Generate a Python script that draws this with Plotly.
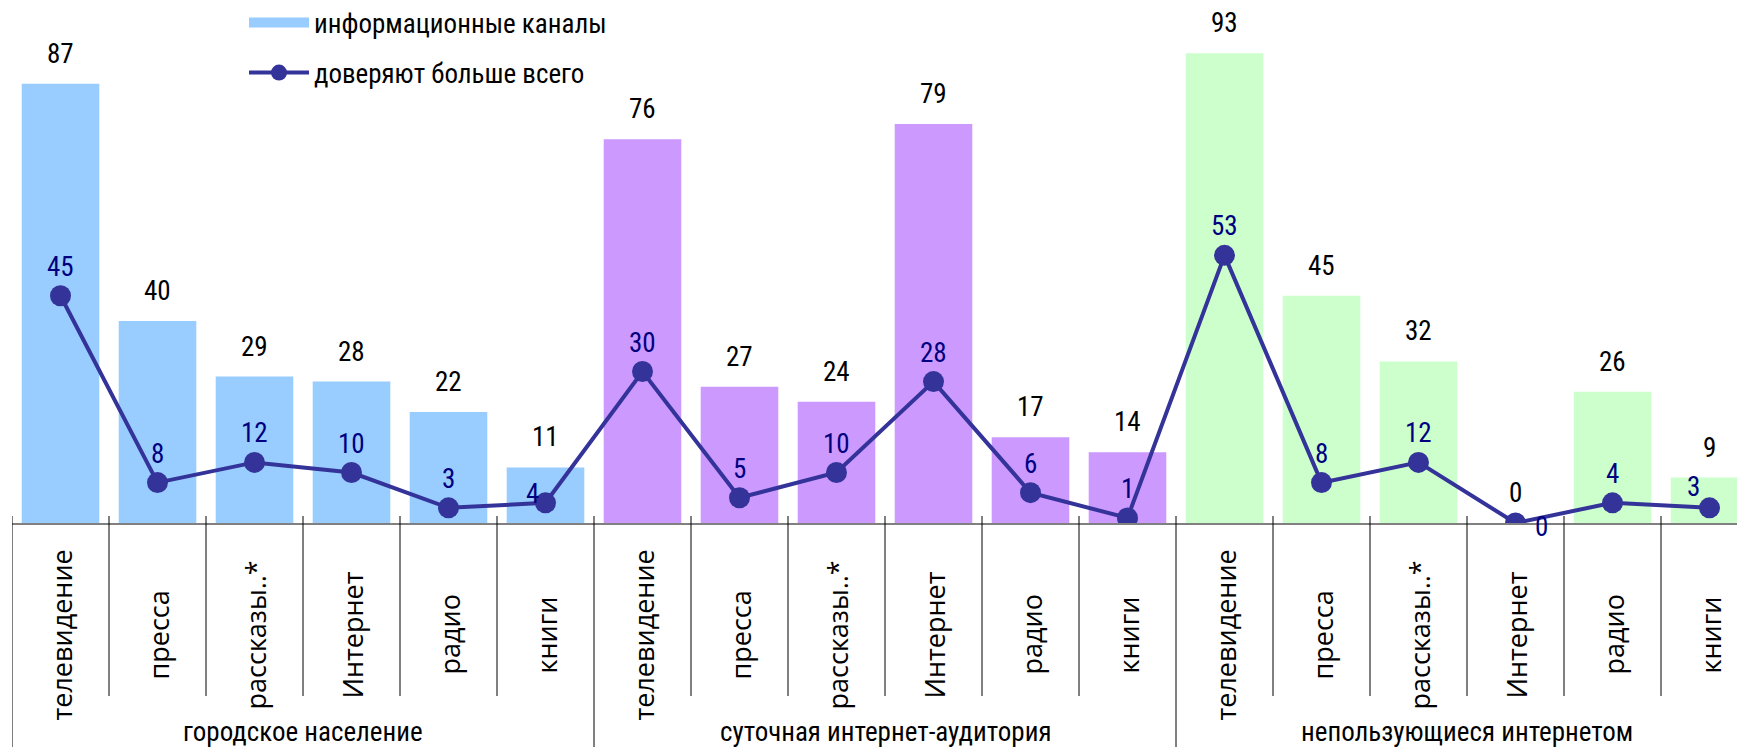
import plotly.graph_objects as go

# ---------------- data ----------------
groups = ["городское население", "суточная интернет-аудитория", "непользующиеся интернетом"]
channels = ["телевидение", "пресса", "рассказы..*", "Интернет", "радио", "книги"]
info_channels = [87, 40, 29, 28, 22, 11,
                 76, 27, 24, 79, 17, 14,
                 93, 45, 32, 0, 26, 9]
trust_most = [45, 8, 12, 10, 3, 4,
              30, 5, 10, 28, 6, 1,
              53, 8, 12, 0, 4, 3]
series_names = ["информационные каналы", "доверяют больше всего"]

# ---------------- styles ----------------
group_colors = ["#99CCFF", "#CC99FF", "#CCFFCC"]
LINE = "#333399"
LABEL_BLUE = "#000080"
NUM_FONT = "Roboto Condensed, Roboto, sans-serif"
TICK_FONT = "Open Sans, sans-serif"
NUM_SIZE = 27

W, H = 1745, 747
ML, MB = 4, 232
PLOT_W = W - ML
PLOT_H = H - MB
PX_PER_UNIT = 5.05
CAT_W = 97

n_ch = len(channels)
n = len(info_channels)
x_outer = [g for g in groups for _ in channels]
x_inner = channels * len(groups)
bar_colors = [group_colors[i // n_ch] for i in range(n)]

# label offsets (pixels) for special line labels
line_label_shift = {5: (-13, -9), 15: (26, 4), 17: (-16, -21)}

fig = go.Figure()
fig.add_bar(x=[x_outer, x_inner], y=info_channels, marker_color=bar_colors,
            marker_line_width=0, showlegend=False, hoverinfo="skip")
fig.add_scatter(x=[x_outer, x_inner], y=trust_most, mode="lines+markers",
                line=dict(color=LINE, width=4), marker=dict(size=21, color=LINE),
                name=series_names[1], legend="legend2", showlegend=True)
# legend proxy for bars
fig.add_scatter(x=[None], y=[None], mode="lines", line=dict(color=group_colors[0], width=12),
                name=series_names[0], legend="legend", showlegend=True)

ann = []
for i, v in enumerate(info_channels):
    ann.append(dict(x=i, y=v, xref="x", yref="y", text=str(v), showarrow=False,
                    yanchor="middle", yshift=30, font=dict(family=NUM_FONT, size=NUM_SIZE, color="black")))
for i, v in enumerate(trust_most):
    dx, dy = line_label_shift.get(i, (0, -29))
    ann.append(dict(x=i, y=v, xref="x", yref="y", text=str(v), showarrow=False,
                    yanchor="middle", xshift=dx, yshift=-dy,
                    font=dict(family=NUM_FONT, size=NUM_SIZE, color=LABEL_BLUE)))
for i, c in enumerate(x_inner):
    ann.append(dict(x=i, y=0, xref="x", yref="y", text=c, showarrow=False, textangle=-90,
                    yanchor="middle", xanchor="center", yshift=-112,
                    font=dict(family=TICK_FONT, size=27, color="black")))
for g, name in enumerate(groups):
    ann.append(dict(x=g * n_ch + (n_ch - 1) / 2, y=0, xref="x", yref="y", text=name,
                    showarrow=False, yanchor="middle", yshift=-209,
                    font=dict(family=NUM_FONT, size=NUM_SIZE, color="black")))

def py2paper(py):
    return (PLOT_H - py) / PLOT_H

def px2paper(px):
    return (px - ML) / PLOT_W

shapes = []
for b in range(n + 1):
    xb = b - 0.5
    is_group = (b % n_ch == 0)
    shapes.append(dict(type="line", xref="x", yref="paper", x0=xb, x1=xb,
                       y0=py2paper(PLOT_H - 7), y1=py2paper(H if is_group else PLOT_H + 173),
                       line=dict(color="black", width=1)))

fig.update_layout(
    width=W, height=H,
    margin=dict(l=ML, r=0, t=0, b=MB, autoexpand=False),
    plot_bgcolor="white", paper_bgcolor="white",
    bargap=0.2,
    xaxis=dict(type="multicategory", range=[-0.5, -0.5 + PLOT_W / CAT_W],
               showticklabels=False, ticks="", showline=True, linecolor="#808080",
               linewidth=2, showgrid=False, zeroline=False, showdividers=False),
    yaxis=dict(range=[0, PLOT_H / PX_PER_UNIT], visible=False, showgrid=False, zeroline=False),
    annotations=ann, shapes=shapes,
    legend=dict(x=px2paper(236), y=py2paper(15), xanchor="left", yanchor="middle",
                itemwidth=60, bgcolor="rgba(0,0,0,0)",
                font=dict(family=NUM_FONT, size=NUM_SIZE, color="black")),
    legend2=dict(x=px2paper(236), y=py2paper(65), xanchor="left", yanchor="middle",
                 itemwidth=60, bgcolor="rgba(0,0,0,0)",
                 font=dict(family=NUM_FONT, size=NUM_SIZE, color="black")),
    showlegend=True,
)

fig.write_html("out.html")
